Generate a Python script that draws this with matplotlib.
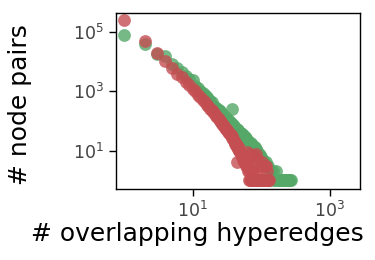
import matplotlib
matplotlib.use("Agg")
import matplotlib.pyplot as plt
import numpy as np

# overlap counts -> number of node pairs
green_x = [1, 2, 3, 4, 5, 6, 7, 8, 9, 10, 11, 12, 13, 14, 15, 16, 17, 18, 19, 20,
           21, 22, 23, 24, 25, 26, 27, 28, 29, 30, 31, 32, 33, 34, 35, 36, 37, 38, 39, 40,
           42, 44, 46, 48, 50, 52, 54, 56, 58, 60, 63, 66, 70, 73, 76, 80, 84, 88, 92, 96,
           100, 105, 110, 116, 120, 126, 132, 140, 146, 152, 160, 166, 172, 180, 188,
           196, 205, 214, 224, 234, 245, 256, 266, 275, 74, 78, 86, 94, 102, 112, 124, 136]
green_y = [77000, 38000, 17500, 15000, 8500, 6000, 4300, 3300, 2600, 2300, 1500, 1250, 1000, 860, 720,
           630, 540, 460, 420, 330, 300, 280, 250, 235, 215, 190, 175, 160, 150, 135, 125, 118, 108,
           100, 95, 88, 260, 80, 74, 68, 60, 55, 48, 44, 40, 36, 33, 30, 28, 26, 22, 20, 18, 16,
           14, 13, 11, 10, 8, 7, 6, 5, 4, 4, 3, 3, 2, 2, 2, 1, 1, 2, 1, 1, 1,
           1, 1, 1, 1, 1, 1, 1, 1, 1, 1, 1, 1, 1, 1, 1, 1, 1]

red_x = [1, 2, 3, 4, 5, 6, 7, 8, 9, 10, 11, 12, 13, 14, 15, 16, 17, 18, 19, 20,
         21, 22, 23, 24, 25, 26, 27, 28, 29, 30, 31, 32, 33, 34, 35, 36, 37, 38, 39, 40,
         41, 42, 43, 44, 45, 46, 47, 48, 49, 50, 51, 52, 53, 54, 55, 56, 57, 58, 59, 60,
         62, 64, 65, 67, 70, 72, 75, 78, 80, 84, 88, 92, 96, 100, 105, 110, 118, 125, 130,
         66, 69, 73, 77, 82, 86, 90, 95, 98, 103, 108, 114, 120, 126, 44,
         63, 68, 74, 79, 85, 89, 94, 101, 112, 117, 122]
red_y = [245000, 50000, 19500, 10500, 6200, 3900, 2900, 2000, 1600, 1200, 980, 740, 640, 490, 440,
         350, 320, 260, 240, 200, 175, 150, 135, 118, 100, 94, 80, 72, 66, 58, 52, 50, 43, 40, 36,
         33, 30, 26, 25, 21, 20, 17, 16, 15, 13, 11, 12, 10, 9, 8, 9, 7, 6, 7, 5, 6, 4, 5, 3, 4,
         3, 2, 3, 2, 2, 1, 2, 1, 1, 1, 2, 1, 1, 1, 1, 1, 1, 1, 1,
         1, 1, 1, 1, 1, 1, 1, 1, 1, 1, 1, 1, 1, 1, 4,
         9, 8, 6, 7, 8, 5, 3, 4, 3, 3, 2]

green = "#55a868"
red = "#c44e52"

fig = plt.figure(figsize=(3.75, 2.6), dpi=100)
ax = fig.add_axes([0.309, 0.273, 0.651, 0.677])

ax.scatter(green_x, green_y, s=85, color=green, alpha=0.8, linewidths=0)
ax.scatter(red_x, red_y, s=85, color=red, alpha=0.8, linewidths=0)

ax.set_xscale("log")
ax.set_yscale("log")
ax.set_xlim(0.766, 2735)
ax.set_ylim(0.51, 4.3e5)
ax.set_xticks([10, 1000])
ax.set_yticks([10, 1000, 100000])
ax.minorticks_off()
ax.tick_params(labelsize=12.5, labelcolor="#444444", length=5, width=1)
for s in ax.spines.values():
    s.set_linewidth(1)

ax.set_xlabel("# overlapping hyperedges", fontsize=18)
ax.set_ylabel("# node pairs", fontsize=18)
ax.xaxis.set_label_coords(0.332, -0.19)
ax.yaxis.set_label_coords(-0.345, 0.48)

fig.savefig("out.png", dpi=100)
